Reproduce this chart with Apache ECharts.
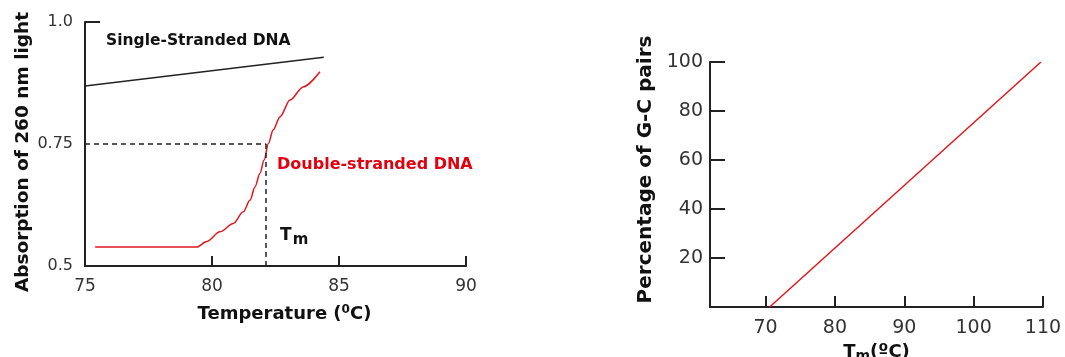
<!DOCTYPE html>
<html><head><meta charset="utf-8">
<script src="https://cdn.jsdelivr.net/npm/echarts@6/dist/echarts.min.js"></script>
<style>html,body{margin:0;padding:0;background:#fff}#c{width:1065px;height:357px}</style>
</head><body><div id="c"></div>
<script>
// Left chart: melting curve
const singleTemp = [75, 84.4];
const singleAbs = [0.869, 0.928];
const doubleTemp = [75.4, 79.4, 79.79, 80.31, 80.84, 81.23, 81.50, 81.69, 81.89, 82.05, 82.22, 82.41, 82.68, 83.07, 83.59, 84.25];
const doubleAbs = [0.539, 0.539, 0.550, 0.570, 0.587, 0.611, 0.635, 0.662, 0.690, 0.717, 0.751, 0.779, 0.806, 0.840, 0.867, 0.898];
const tmValue = 82.13;
const halfAbs = 0.75;
const leftYTicks = [0.5, 0.75, 1.0];
const leftYLabels = ['0.5', '0.75', '1.0'];
// Right chart: GC content vs Tm
const gcTm = [70.6, 109.7];
const gcPct = [0, 100];
const rightXTicks = [70, 80, 90, 100, 110];

const pairs = (xs, ys) => xs.map((x, i) => [x, ys[i]]);
const tickFont = {fontFamily: 'DejaVu Sans', color: '#333'};
const boldFont = 'DejaVu Sans';

const chart = echarts.init(document.getElementById('c'), null, {renderer: 'canvas'});
chart.setOption({
  animation: false,
  backgroundColor: '#fff',
  grid: [
    {left: 85, right: 599, top: 22, bottom: 91, outerBoundsMode: 'none', containLabel: false},
    {left: 710, right: 22, top: 62, bottom: 50, outerBoundsMode: 'none', containLabel: false}
  ],
  xAxis: [
    {
      gridIndex: 0, type: 'value', min: 75, max: 90, interval: 5,
      name: '{n|Temperature (}{s|0}{n|C)}', nameLocation: 'middle', nameGap: 38,
      nameTextStyle: {padding: [0, 0, 0, 18], rich: {
        n: {fontFamily: boldFont, fontWeight: 'bold', fontSize: 18, color: '#111'},
        s: {fontFamily: boldFont, fontWeight: 'bold', fontSize: 12, color: '#111', padding: [0, 0, 9, 0]}
      }},
      axisLine: {show: true, lineStyle: {color: '#222', width: 2}},
      axisTick: {show: true, inside: true, length: 10, lineStyle: {color: '#222', width: 2}},
      axisLabel: {...tickFont, fontSize: 17, margin: 12},
      splitLine: {show: false}
    },
    {
      gridIndex: 1, type: 'value', min: 62, max: 110,
      name: '{n|T}{s|m}{n|(ºC)}', nameLocation: 'middle', nameGap: 31,
      nameTextStyle: {rich: {
        n: {fontFamily: boldFont, fontWeight: 'bold', fontSize: 18, color: '#111'},
        s: {fontFamily: boldFont, fontWeight: 'bold', fontSize: 14, color: '#111', padding: [8, 0, 0, 0]}
      }},
      axisLine: {show: true, onZero: false, lineStyle: {color: '#222', width: 2}},
      axisTick: {show: true, inside: true, length: 11, customValues: rightXTicks, lineStyle: {color: '#222', width: 2}},
      axisLabel: {...tickFont, fontSize: 19, margin: 12, customValues: rightXTicks},
      splitLine: {show: false}
    }
  ],
  yAxis: [
    {
      gridIndex: 0, type: 'value', min: 0.5, max: 1.0, interval: 0.25,
      name: 'Absorption of 260 nm light', nameLocation: 'middle', nameGap: 52,
      nameTextStyle: {fontFamily: boldFont, fontWeight: 'bold', fontSize: 18.5, color: '#111', padding: [0, 16, 0, 0]},
      axisLine: {show: true, lineStyle: {color: '#222', width: 2}},
      axisTick: {show: true, inside: true, length: 15, customValues: [1.0], lineStyle: {color: '#222', width: 2}},
      axisLabel: {...tickFont, fontSize: 16, margin: 12,
        formatter: v => { const i = leftYTicks.findIndex(t => Math.abs(t - v) < 1e-6); return i >= 0 ? leftYLabels[i] : ''; }},
      splitLine: {show: false}
    },
    {
      gridIndex: 1, type: 'value', min: 0, max: 100, interval: 20,
      name: 'Percentage of G-C pairs', nameLocation: 'middle', nameGap: 54,
      nameTextStyle: {fontFamily: boldFont, fontWeight: 'bold', fontSize: 20, color: '#111', padding: [0, 0, 0, 30]},
      axisLine: {show: true, lineStyle: {color: '#222', width: 2}},
      axisTick: {show: true, inside: true, length: 15, lineStyle: {color: '#222', width: 2}},
      axisLabel: {...tickFont, fontSize: 19, margin: 7, showMinLabel: false},
      splitLine: {show: false}
    }
  ],
  series: [
    {
      type: 'line', xAxisIndex: 0, yAxisIndex: 0, data: pairs(singleTemp, singleAbs),
      symbol: 'none', lineStyle: {color: '#222', width: 1.5},
      markPoint: {
        symbolSize: 0, silent: true,
        data: [{coord: [75.83, 0.961], value: 'Single-Stranded DNA'}],
        label: {show: true, position: 'right', distance: 0, formatter: 'Single-Stranded DNA',
          fontFamily: boldFont, fontWeight: 'bold', fontSize: 15.5, color: '#111'}
      }
    },
    {
      type: 'line', xAxisIndex: 0, yAxisIndex: 0, data: pairs(doubleTemp, doubleAbs),
      symbol: 'none', smooth: 0.3, smoothMonotone: 'x', lineStyle: {color: '#e3161e', width: 1.5},
      markLine: {
        symbol: 'none', silent: true, label: {show: false},
        lineStyle: {color: '#222', width: 1.5, type: [5, 4]},
        data: [
          [{coord: [75, halfAbs]}, {coord: [tmValue, halfAbs]}],
          [{coord: [tmValue, halfAbs]}, {coord: [tmValue, 0.5]}]
        ]
      },
      markPoint: {
        symbolSize: 0, silent: true,
        data: [
          {coord: [82.56, 0.707], name: 'ds', label: {formatter: 'Double-stranded DNA', color: '#e00010'}},
          {coord: [82.68, 0.563], name: 'tm', label: {formatter: '{t|T}{m|m}'}}
        ],
        label: {show: true, position: 'right', distance: 0,
          fontFamily: boldFont, fontWeight: 'bold', fontSize: 16, color: '#111',
          rich: {
            t: {fontFamily: boldFont, fontWeight: 'bold', fontSize: 17, color: '#111'},
            m: {fontFamily: boldFont, fontWeight: 'bold', fontSize: 15, color: '#111', padding: [9, 0, 0, 1]}
          }}
      }
    },
    {
      type: 'line', xAxisIndex: 1, yAxisIndex: 1, data: pairs(gcTm, gcPct),
      symbol: 'none', lineStyle: {color: '#e3161e', width: 1.5}
    }
  ]
});
</script></body></html>
